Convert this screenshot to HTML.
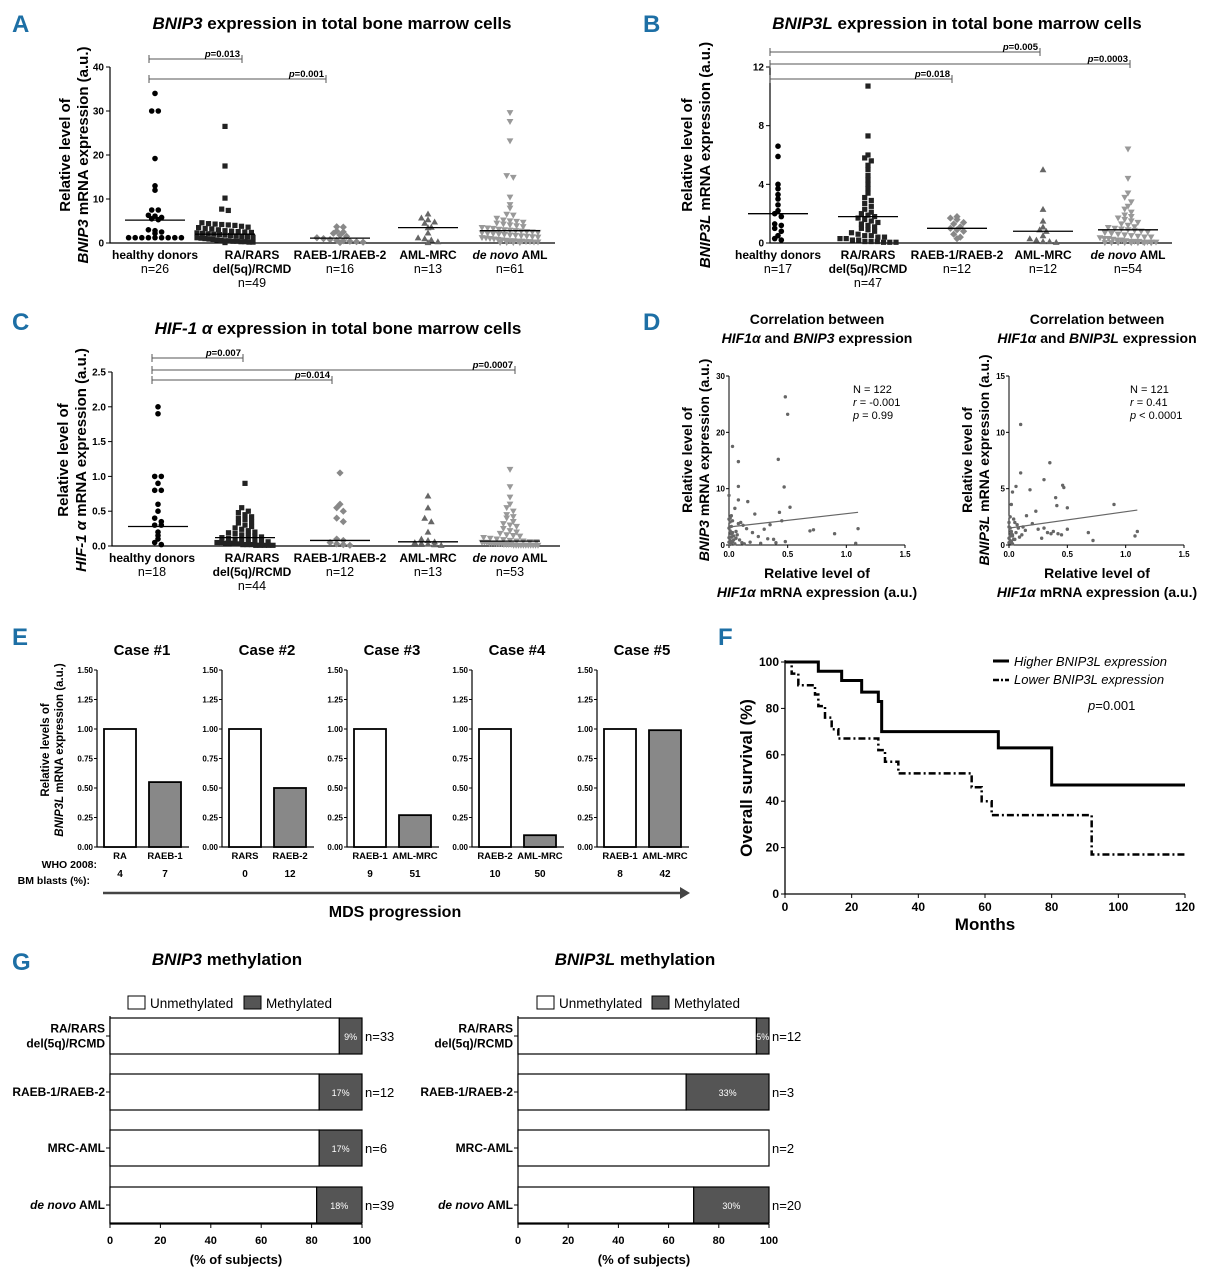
<!DOCTYPE html>
<html><head><meta charset="utf-8"><style>
html,body{margin:0;padding:0;background:#fff}
svg{display:block;font-family:"Liberation Sans",Arial,sans-serif}
.b{font-weight:bold}
.pl{font-family:"Liberation Sans",sans-serif;font-weight:bold;fill:#1d6fa5;font-size:24px}
</style></head><body>
<svg id="fig" width="1217" height="1280" viewBox="0 0 1217 1280" xmlns="http://www.w3.org/2000/svg">
<text class="pl" x="12" y="32">A</text>
<text class="pl" x="643" y="32">B</text>
<text class="pl" x="12" y="330">C</text>
<text class="pl" x="643" y="330">D</text>
<text class="pl" x="12" y="645">E</text>
<text class="pl" x="718" y="645">F</text>
<text class="pl" x="12" y="970">G</text>

<text x="332" y="29" text-anchor="middle" class="b" font-size="17"><tspan font-style="italic">BNIP3</tspan> expression in total bone marrow cells</text>
<g transform="translate(70,155) rotate(-90)"><text text-anchor="middle" class="b" font-size="15">Relative level of</text><text y="18" text-anchor="middle" class="b" font-size="15"><tspan font-style="italic">BNIP3</tspan> mRNA expression (a.u.)</text></g>
<text x="957" y="29" text-anchor="middle" class="b" font-size="17"><tspan font-style="italic">BNIP3L</tspan> expression in total bone marrow cells</text>
<g transform="translate(692,155) rotate(-90)"><text text-anchor="middle" class="b" font-size="15">Relative level of</text><text y="18" text-anchor="middle" class="b" font-size="15"><tspan font-style="italic">BNIP3L</tspan> mRNA expression (a.u.)</text></g>
<text x="338" y="334" text-anchor="middle" class="b" font-size="17"><tspan font-style="italic">HIF-1 α</tspan> expression in total bone marrow cells</text>
<g transform="translate(68,460) rotate(-90)"><text text-anchor="middle" class="b" font-size="15">Relative level of</text><text y="18" text-anchor="middle" class="b" font-size="15"><tspan font-style="italic">HIF-1 α</tspan> mRNA expression (a.u.)</text></g>
<g><text x="817" y="324" text-anchor="middle" class="b" font-size="14">Correlation between</text><text x="817" y="343" text-anchor="middle" class="b" font-size="14"><tspan font-style="italic">HIF1α</tspan> and <tspan font-style="italic">BNIP3</tspan> expression</text></g>
<g><text x="1097" y="324" text-anchor="middle" class="b" font-size="14">Correlation between</text><text x="1097" y="343" text-anchor="middle" class="b" font-size="14"><tspan font-style="italic">HIF1α</tspan> and <tspan font-style="italic">BNIP3L</tspan> expression</text></g>
<g transform="translate(692,460) rotate(-90)"><text text-anchor="middle" class="b" font-size="14">Relative level of</text><text y="17" text-anchor="middle" class="b" font-size="14"><tspan font-style="italic">BNIP3</tspan> mRNA expression (a.u.)</text></g>
<g transform="translate(972,460) rotate(-90)"><text text-anchor="middle" class="b" font-size="14">Relative level of</text><text y="17" text-anchor="middle" class="b" font-size="14"><tspan font-style="italic">BNIP3L</tspan> mRNA expression (a.u.)</text></g>
<g><text x="817" y="578" text-anchor="middle" class="b" font-size="14">Relative level of</text><text x="817" y="597" text-anchor="middle" class="b" font-size="14"><tspan font-style="italic">HIF1α</tspan> mRNA expression (a.u.)</text></g>
<g><text x="1097" y="578" text-anchor="middle" class="b" font-size="14">Relative level of</text><text x="1097" y="597" text-anchor="middle" class="b" font-size="14"><tspan font-style="italic">HIF1α</tspan> mRNA expression (a.u.)</text></g>
<g font-size="11"><text x="853" y="393">N = 122</text><text x="853" y="406"><tspan font-style="italic">r</tspan> = -0.001</text><text x="853" y="419"><tspan font-style="italic">p</tspan> = 0.99</text></g>
<g font-size="11"><text x="1130" y="393">N = 121</text><text x="1130" y="406"><tspan font-style="italic">r</tspan> = 0.41</text><text x="1130" y="419"><tspan font-style="italic">p</tspan> &lt; 0.0001</text></g>
<g transform="translate(49,750) rotate(-90)"><text text-anchor="middle" class="b" font-size="11.5">Relative levels of</text><text y="14" text-anchor="middle" class="b" font-size="11.5"><tspan font-style="italic">BNIP3L</tspan> mRNA expression (a.u.)</text></g>
<text x="97" y="868" text-anchor="end" class="b" font-size="10.5">WHO 2008:</text>
<text x="90" y="884" text-anchor="end" class="b" font-size="10.5">BM blasts (%):</text>
<line x1="103" y1="893" x2="680" y2="893" stroke="#444" stroke-width="2.5"/>
<polygon points="680,887 690,893 680,899" fill="#444"/>
<text x="395" y="917" text-anchor="middle" class="b" font-size="16">MDS progression</text>
<text transform="translate(752,778) rotate(-90)" text-anchor="middle" class="b" font-size="17">Overall survival (%)</text>
<text x="985" y="930" text-anchor="middle" class="b" font-size="17">Months</text>
<line x1="993" y1="661" x2="1009" y2="661" stroke="#000" stroke-width="3"/>
<text x="1014" y="666" font-size="13" font-style="italic">Higher BNIP3L expression</text>
<line x1="993" y1="680" x2="1009" y2="680" stroke="#000" stroke-width="2.5" stroke-dasharray="6,2,2,2"/>
<text x="1014" y="684" font-size="13" font-style="italic">Lower BNIP3L expression</text>
<text x="1088" y="710" font-size="13"><tspan font-style="italic">p</tspan>=0.001</text>
<text x="227" y="965" text-anchor="middle" class="b" font-size="17"><tspan font-style="italic">BNIP3</tspan> methylation</text>
<text x="635" y="965" text-anchor="middle" class="b" font-size="17"><tspan font-style="italic">BNIP3L</tspan> methylation</text>
<g font-size="13.5"><rect x="128" y="996" width="17" height="13" fill="#fff" stroke="#000"/><text x="150" y="1008">Unmethylated</text><rect x="244" y="996" width="17" height="13" fill="#555" stroke="#000"/><text x="266" y="1008">Methylated</text></g>
<g font-size="13.5"><rect x="537" y="996" width="17" height="13" fill="#fff" stroke="#000"/><text x="559" y="1008">Unmethylated</text><rect x="652" y="996" width="17" height="13" fill="#555" stroke="#000"/><text x="674" y="1008">Methylated</text></g>
<text x="236" y="1264" text-anchor="middle" class="b" font-size="13">(% of subjects)</text>
<text x="644" y="1264" text-anchor="middle" class="b" font-size="13">(% of subjects)</text>
<g id="dyn"></g>
</svg>
<script>
const aCats = ["healthy donors","RA/RARS|del(5q)/RCMD","RAEB-1/RAEB-2","AML-MRC","de novo AML"];
const aNs = ["n=26","n=49","n=16","n=13","n=61"];
const aHealthy = [34,30,30,19.2,13,12,7.5,7.5,6.3,6.1,5.8,5.5,5.3,3,2.8,2.5,2.2,1.2,1.2,1.2,1.2,1.2,1.2,1.2,1.2,1.2];
const aRA = [26.5,17.5,10.2,7.7,7.4,4.6,4.4,4.3,4.2,4.1,4,3.8,3.6,3.5,3.3,3.2,3,2.8,2.7,2.6,2.5,2.4,2.3,2.2,2.1,2,1.9,1.8,1.7,1.6,1.5,1.4,1.3,1.2,1.1,1,0.9,0.8,0.7,0.6,0.5,0.5,0.4,0.4,0.3,0.3,0.2,0.2,0.1];
const aRAEB = [3.7,3.6,2.7,2.5,2.2,1.8,1.5,1.2,1,0.8,0.6,0.5,0.4,0.3,0.2,0.1];
const aMRC = [6.6,5.7,5.3,4.8,4.5,3.6,3.5,2.3,1.2,1,0.7,0.3,0.1];
const aDeNovo = [29.6,27.6,23.2,15.3,14.9,10.4,8.7,7.9,6.5,6.3,5.6,5.2,5,4.9,4.7,4.5,4.3,4.1,3.9,3.7,3.5,3.4,3.3,3.1,3,2.9,2.8,2.7,2.6,2.5,2.4,2.3,2.2,2.1,2,1.9,1.8,1.7,1.6,1.5,1.4,1.3,1.2,1.1,1,0.9,0.8,0.7,0.6,0.5,0.5,0.4,0.4,0.3,0.3,0.2,0.2,0.1,0.1,0.05,0.05];
const aMedians = [5.2,2.0,1.1,3.5,2.8];
const aTicks = [0,10,20,30,40];
const bNs = ["n=17","n=47","n=12","n=12","n=54"];
const bHealthy = [6.6,5.9,4.0,3.7,3.3,3.0,2.6,2.2,2.0,1.8,1.3,1.2,1.0,0.8,0.5,0.3,0.2];
const bRA = [10.7,7.3,6.0,5.8,5.6,5.3,5.0,4.6,4.3,4.0,3.7,3.4,3.1,2.9,2.7,2.5,2.3,2.1,2.0,1.9,1.8,1.7,1.6,1.5,1.4,1.3,1.2,1.1,1.0,0.9,0.8,0.7,0.6,0.5,0.5,0.4,0.4,0.3,0.3,0.2,0.2,0.1,0.1,0.1,0.05,0.05,0.05];
const bRAEB = [1.8,1.7,1.6,1.4,1.3,1.1,1.0,0.9,0.8,0.6,0.4,0.3];
const bMRC = [5.0,2.3,1.5,1.1,0.9,0.8,0.5,0.3,0.2,0.1,0.1,0.05];
const bDeNovo = [6.4,4.4,3.4,3.1,2.8,2.5,2.3,2.1,1.9,1.8,1.7,1.6,1.5,1.4,1.3,1.2,1.1,1.05,1.0,0.95,0.9,0.85,0.8,0.75,0.7,0.65,0.6,0.55,0.5,0.45,0.4,0.4,0.35,0.3,0.3,0.25,0.2,0.2,0.15,0.1,0.1,0.1,0.05,0.05,0.05,0.05,0.02,0.02,0.02,0.02,0.01,0.01,0.01,0.01];
const bMedians = [2.0,1.8,1.0,0.8,0.9];
const bTicks = [0,4,8,12];
const cNs = ["n=18","n=44","n=12","n=13","n=53"];
const cHealthy = [2.0,1.9,1.0,1.0,0.9,0.8,0.8,0.6,0.5,0.4,0.35,0.3,0.3,0.2,0.15,0.1,0.05,0.02];
const cRA = [0.9,0.55,0.5,0.48,0.45,0.42,0.4,0.38,0.35,0.33,0.3,0.28,0.26,0.24,0.22,0.2,0.19,0.18,0.16,0.15,0.14,0.13,0.12,0.11,0.1,0.09,0.08,0.07,0.06,0.06,0.05,0.05,0.04,0.04,0.03,0.03,0.02,0.02,0.02,0.01,0.01,0.01,0.01,0.01];
const cRAEB = [1.05,0.6,0.55,0.5,0.4,0.35,0.1,0.08,0.05,0.03,0.02,0.01];
const cMRC = [0.72,0.55,0.4,0.35,0.2,0.1,0.08,0.06,0.05,0.04,0.03,0.02,0.01];
const cDeNovo = [1.1,0.85,0.7,0.6,0.55,0.5,0.45,0.42,0.4,0.35,0.32,0.3,0.28,0.25,0.22,0.2,0.18,0.16,0.15,0.14,0.12,0.11,0.1,0.09,0.08,0.07,0.07,0.06,0.06,0.05,0.05,0.05,0.04,0.04,0.04,0.03,0.03,0.03,0.02,0.02,0.02,0.02,0.01,0.01,0.01,0.01,0.01,0.01,0.01,0.01,0.01,0.01,0.01];
const cMedians = [0.28,0.12,0.08,0.06,0.07];
const cTicks = [0,0.5,1,1.5,2,2.5];
const dLeftX = [0.03,0.08,0.42,0.48,0.5,0.47,0.08,0.0,0.08,0.16,0.52,0.43,0.22,0.72,0.69,0.9,1.1,1.08,0.48,0.05,0.02,0.01,0.03,0.1,0.12,0.15,0.2,0.25,0.3,0.35,0.38,0.0,0.01,0.02,0.04,0.06,0.0,0.01,0.02,0.03,0.05,0.07,0.09,0.11,0.13,0.18,0.27,0.33,0.45,0.4,0.0,0.01,0.02,0.03,0.04,0.0,0.01,0.02,0.06,0.08];
const dLeftY = [17.5,14.8,15.2,26.3,23.2,10.3,10.4,8.8,8.0,7.7,6.7,5.8,5.5,2.7,2.5,2.0,2.9,0.3,0.6,6.5,5.2,4.8,4.3,4.0,3.5,2.9,2.2,1.5,2.8,3.6,1.0,3.0,2.5,2.0,1.6,1.2,0.5,0.8,0.3,0.6,0.2,1.8,0.9,0.4,0.2,0.5,0.3,1.1,4.3,0.4,1.3,4.1,3.3,2.2,0.9,4.6,0.1,1.4,2.4,3.8];
const dLeftFit = [3.2,5.8];
const dRightX = [0.1,0.35,0.1,0.3,0.46,0.47,0.4,0.41,0.5,0.9,0.06,0.03,0.18,0.23,0.68,0.72,1.08,1.1,0.02,0.01,0.04,0.05,0.07,0.08,0.12,0.15,0.2,0.25,0.3,0.33,0.38,0.45,0.5,0.0,0.01,0.02,0.03,0.0,0.01,0.02,0.03,0.05,0.06,0.09,0.11,0.14,0.28,0.36,0.42,0.0,0.01,0.02,0.04,0.0,0.01,0.03];
const dRightY = [10.7,7.3,6.4,5.8,5.3,5.1,4.2,3.5,3.3,3.6,5.2,4.7,4.9,3.0,1.1,0.4,0.8,1.2,3.6,2.5,2.3,2.0,1.8,1.5,1.6,2.6,1.9,1.4,1.5,1.1,1.2,0.9,1.4,2.0,1.5,1.2,0.9,0.6,0.4,0.3,0.8,0.5,1.1,0.7,0.9,1.3,0.6,1.0,1.0,1.6,0.2,1.0,0.5,0.2,0.8,0.1];
const dRightFit = [1.5,3.1];
const eCases = ["Case #1","Case #2","Case #3","Case #4","Case #5"];
const eCatsBefore = ["RA","RARS","RAEB-1","RAEB-2","RAEB-1"];
const eCatsAfter = ["RAEB-1","RAEB-2","AML-MRC","AML-MRC","AML-MRC"];
const eBlastsBefore = [4,0,9,10,8];
const eBlastsAfter = [7,12,51,50,42];
const eValBefore = [1,1,1,1,1];
const eValAfter = [0.55,0.5,0.27,0.1,0.99];
const eTicks = [0,0.25,0.5,0.75,1,1.25,1.5];
const fHighT = [0,10,17,23,28,29,64,80,120];
const fHighS = [100,96,92,87,83,70,63,47,47];
const fLowT = [0,2,4,9,10,12,14,16,28,30,34,56,59,62,92,120];
const fLowS = [100,95,90,86,81,76,71,67,62,57,52,46,40,34,17,17];
const fXTicks = [0,20,40,60,80,100,120];
const fYTicks = [0,20,40,60,80,100];
const gCats = ["RA/RARS|del(5q)/RCMD","RAEB-1/RAEB-2","MRC-AML","de novo AML"];
const gLeftMeth = [9,17,17,18];
const gLeftN = [33,12,6,39];
const gRightMeth = [5,33,0,30];
const gRightN = [12,3,2,20];
const gTicks = [0,20,40,60,80,100];

const NS="http://www.w3.org/2000/svg";
const root=document.getElementById('dyn');
function mk(tag,attrs,parent){const e=document.createElementNS(NS,tag);for(const k in attrs)e.setAttribute(k,attrs[k]);(parent||root).appendChild(e);return e;}
function txt(x,y,s,attrs,parent){const e=mk('text',Object.assign({x:x,y:y},attrs||{}),parent);e.textContent=s;return e;}

function marker(shape,cx,cy,col,g){
  let e;
  if(shape==='circle') e=mk('circle',{cx:cx,cy:cy,r:2.8,fill:col},g);
  else if(shape==='square') e=mk('rect',{x:cx-2.6,y:cy-2.6,width:5.2,height:5.2,fill:col},g);
  else if(shape==='diamond') e=mk('polygon',{points:`${cx},${cy-3.6} ${cx+3.6},${cy} ${cx},${cy+3.6} ${cx-3.6},${cy}`,fill:col},g);
  else if(shape==='up') e=mk('polygon',{points:`${cx},${cy-3.4} ${cx+3.4},${cy+2.6} ${cx-3.4},${cy+2.6}`,fill:col},g);
  else e=mk('polygon',{points:`${cx},${cy+3.4} ${cx+3.4},${cy-2.6} ${cx-3.4},${cy-2.6}`,fill:col},g);
  return e;
}

function dotPlot(p){
  const g=mk('g',{});
  
  
  const y=v=>p.y0-(v/p.max)*(p.y0-p.yT);
  const ax=mk('path',{d:`M${p.ax},${p.yT} V${p.y0} H${p.axEnd}`,stroke:'#000','stroke-width':1.2,fill:'none'},g);
  
  
  p.ticks.forEach(t=>{
    const l=mk('line',{x1:p.ax-4,x2:p.ax,y1:y(t),y2:y(t),stroke:'#000'},g);
    
    
    const tl=txt(p.ax-6,y(t)+3.5,p.fmt(t),{'text-anchor':'end','font-size':10,'font-weight':'bold'},g);
    
    
  });
  const shapes=['circle','square','diamond','up','down'];
  const cols=['#000','#222','#888','#666','#999'];
  const halfW=28;
  p.groups.forEach((arr,gi)=>{
    const cx=p.centers[gi];
    const bins={};
    arr.forEach(v=>{const py=y(v);const b=Math.round(py/5);(bins[b]=bins[b]||[]).push(py);});
    Object.keys(bins).forEach(b=>{
      const list=bins[b];const n=list.length;
      const sp=n>1?Math.min(6.6,2*halfW/(n-1)):0;
      list.forEach((py,i)=>{
        const off=(i-(n-1)/2)*sp;
        const m=marker(shapes[gi],cx+off,py,cols[gi],g);
        
        
      });
    });
    const md=mk('line',{x1:cx-30,x2:cx+30,y1:y(p.medians[gi]),y2:y(p.medians[gi]),stroke:'#000','stroke-width':1.3},g);
    
    
    const parts=aCats[gi].split('|');
    let ly=p.y0+16;
    parts.forEach((s,k)=>{
      const t=txt(p.labelX[gi],ly,s,{'text-anchor':'middle','font-size':12,'font-weight':'bold'},g);
      if(gi===4){t.textContent='';const a=mk('tspan',{'font-style':'italic'},t);a.textContent='de novo';const b2=mk('tspan',{},t);b2.textContent=' AML';}
      
      
      ly+=14;
    });
    const nt=txt(p.labelX[gi],ly,p.ns[gi],{'text-anchor':'middle','font-size':12.5},g);
    
    
  });
  p.brackets.forEach(br=>{
    const bl=mk('path',{d:`M${br[0]},${br[2]-4} v8 M${br[0]},${br[2]} H${br[1]} M${br[1]},${br[2]-4} v8`,stroke:'#555','stroke-width':1,fill:'none'},g);
    
    
    const t=txt(br[1]-2,br[2]-2,'',{'text-anchor':'end','font-size':9.5,'font-weight':'bold'},g);
    const a=mk('tspan',{'font-style':'italic'},t);a.textContent='p';const b2=mk('tspan',{},t);b2.textContent='='+br[3];
    
    
  });
}

dotPlot({name:'panel-a-dotplot',ax:110,axEnd:555,y0:243,yT:67,max:40,ticks:aTicks,fmt:t=>t,groups:[aHealthy,aRA,aRAEB,aMRC,aDeNovo],medians:aMedians,centers:[155,225,340,428,510],labelX:[155,252,340,428,510],ns:aNs,brackets:[[149,242,59,'0.013'],[149,326,79,'0.001']]});
dotPlot({name:'panel-b-dotplot',ax:770,axEnd:1172,y0:243,yT:67,max:12,ticks:bTicks,fmt:t=>t,groups:[bHealthy,bRA,bRAEB,bMRC,bDeNovo],medians:bMedians,centers:[778,868,957,1043,1128],labelX:[778,868,957,1043,1128],ns:bNs,brackets:[[770,1040,52,'0.005'],[770,1130,64,'0.0003'],[770,952,79,'0.018']]});
dotPlot({name:'panel-c-dotplot',ax:112,axEnd:560,y0:546,yT:372,max:2.5,ticks:cTicks,fmt:t=>t.toFixed(1),groups:[cHealthy,cRA,cRAEB,cMRC,cDeNovo],medians:cMedians,centers:[158,245,340,428,510],labelX:[152,252,340,428,510],ns:cNs,brackets:[[152,243,358,'0.007'],[152,515,370,'0.0007'],[152,332,380,'0.014']]});

function scatter(name,x0,x1,y0,yT,ymax,yt,xs,ys,fit){
  const g=mk('g',{});
  
  
  const X=v=>x0+v/1.5*(x1-x0), Y=v=>y0-v/ymax*(y0-yT);
  const ax=mk('path',{d:`M${x0},${yT} V${y0} H${x1}`,stroke:'#000','stroke-width':1,fill:'none'},g);
  
  
  yt.forEach(t=>{mk('line',{x1:x0-3,x2:x0,y1:Y(t),y2:Y(t),stroke:'#000'},g);
    const l=txt(x0-4,Y(t)+3,t,{'text-anchor':'end','font-size':8,'font-weight':'bold'},g);
    
    });
  [0,0.5,1,1.5].forEach(t=>{mk('line',{x1:X(t),x2:X(t),y1:y0,y2:y0+3,stroke:'#000'},g);
    const l=txt(X(t),y0+12,t.toFixed(1),{'text-anchor':'middle','font-size':8,'font-weight':'bold'},g);
    
    });
  xs.forEach((v,i)=>{const c=mk('circle',{cx:X(v),cy:Y(ys[i]),r:1.7,fill:'#666'},g);
    
    });
  const f=mk('line',{x1:X(0),y1:Y(fit[0]),x2:X(1.1),y2:Y(fit[1]),stroke:'#666','stroke-width':1.2},g);
  
  
}
scatter('panel-d-left-scatter',729,905,545,376,30,[0,10,20,30],dLeftX,dLeftY,dLeftFit);
scatter('panel-d-right-scatter',1009,1184,545,376,15,[0,5,10,15],dRightX,dRightY,dRightFit);

eCases.forEach((c,i)=>{
  const g=mk('g',{});
  
  
  const ax=97+125*i, y0=847, yT=670;
  const Y=v=>y0-v/1.5*(y0-yT);
  const t=txt(ax+45,655,c,{'text-anchor':'middle','font-size':15,'font-weight':'bold'},g);
  
  
  mk('path',{d:`M${ax},${yT} V${y0} H${ax+92}`,stroke:'#000','stroke-width':1.2,fill:'none'},g);
  eTicks.forEach(tk=>{mk('line',{x1:ax-3,x2:ax,y1:Y(tk),y2:Y(tk),stroke:'#000'},g);
    const l=txt(ax-4,Y(tk)+3,tk.toFixed(2),{'text-anchor':'end','font-size':8,'font-weight':'bold'},g);
    
    });
  const b1=mk('rect',{x:ax+7,y:Y(eValBefore[i]),width:32,height:y0-Y(eValBefore[i]),fill:'#fff',stroke:'#000','stroke-width':1.8},g);
  
  
  const b2=mk('rect',{x:ax+52,y:Y(eValAfter[i]),width:32,height:y0-Y(eValAfter[i]),fill:'#888',stroke:'#000','stroke-width':1.8},g);
  
  
  const l1=txt(ax+23,859,eCatsBefore[i],{'text-anchor':'middle','font-size':9.5,'font-weight':'bold'},g);
  
  
  const l2=txt(ax+68,859,eCatsAfter[i],{'text-anchor':'middle','font-size':9.5,'font-weight':'bold'},g);
  
  
  const n1=txt(ax+23,877,eBlastsBefore[i],{'text-anchor':'middle','font-size':10,'font-weight':'bold'},g);
  
  
  const n2=txt(ax+68,877,eBlastsAfter[i],{'text-anchor':'middle','font-size':10,'font-weight':'bold'},g);
  
  
});

(function(){
  const g=mk('g',{});
  
  
  const x0=785,x1=1185,y0=894,yT=662;
  const X=v=>x0+v/120*(x1-x0), Y=v=>y0-v/100*(y0-yT);
  mk('path',{d:`M${x0},${yT-2} V${y0} H${x1}`,stroke:'#000','stroke-width':1.3,fill:'none'},g);
  fYTicks.forEach(t=>{mk('line',{x1:x0-4,x2:x0,y1:Y(t),y2:Y(t),stroke:'#000'},g);
    const l=txt(x0-6,Y(t)+4,t,{'text-anchor':'end','font-size':12,'font-weight':'bold'},g);
    
    });
  fXTicks.forEach(t=>{mk('line',{x1:X(t),x2:X(t),y1:y0,y2:y0+4,stroke:'#000'},g);
    const l=txt(X(t),y0+17,t,{'text-anchor':'middle','font-size':12,'font-weight':'bold'},g);
    
    });
  function step(T,S){let d=`M${X(T[0])},${Y(S[0])}`;for(let i=1;i<T.length;i++){d+=` H${X(T[i])} V${Y(S[i])}`;}return d;}
  const h=mk('path',{d:step(fHighT,fHighS),stroke:'#000','stroke-width':3,fill:'none'},g);
  
  
  const lo=mk('path',{d:step(fLowT,fLowS),stroke:'#000','stroke-width':2.5,fill:'none','stroke-dasharray':'7,3,2,3'},g);
  
  
})();

function hbars(name,x0,x1,meth,ns){
  const g=mk('g',{});
  
  
  const X=v=>x0+v/100*(x1-x0);
  const rows=[1036,1092,1148,1205];
  mk('path',{d:`M${x0},1016 V1224 H${x1}`,stroke:'#000','stroke-width':1.2,fill:'none'},g);
  gTicks.forEach(t=>{mk('line',{x1:X(t),x2:X(t),y1:1224,y2:1228,stroke:'#000'},g);
    const l=txt(X(t),1244,t,{'text-anchor':'middle','font-size':11,'font-weight':'bold'},g);
    
    });
  gCats.forEach((c,i)=>{
    const cy=rows[i];
    mk('line',{x1:x0-4,x2:x0,y1:cy,y2:cy,stroke:'#000'},g);
    const parts=c.split('|');
    parts.forEach((s,k)=>{
      const ty=cy+4+(k-(parts.length-1)/2)*15;
      const t=txt(x0-5,ty,'',{'text-anchor':'end','font-size':12,'font-weight':'bold'},g);
      if(s==='de novo AML'){const a=mk('tspan',{'font-style':'italic'},t);a.textContent='de novo';const b=mk('tspan',{},t);b.textContent=' AML';}
      else t.textContent=s;
      
      
    });
    const u=mk('rect',{x:x0,y:cy-18,width:X(100-meth[i])-x0,height:36,fill:'#fff',stroke:'#000','stroke-width':1.2},g);
    
    
    if(meth[i]>0){
      const m=mk('rect',{x:X(100-meth[i]),y:cy-18,width:X(100)-X(100-meth[i]),height:36,fill:'#555',stroke:'#000','stroke-width':1.2},g);
      
      
      const p=txt((X(100-meth[i])+X(100))/2,cy+4,meth[i]+'%',{'text-anchor':'middle','font-size':9,fill:'#fff'},g);
      
      
    }
    const n=txt(X(100)+3,cy+5,'n='+ns[i],{'font-size':13},g);
    
    
  });
}
hbars('panel-g-left-bars',110,362,gLeftMeth,gLeftN);
hbars('panel-g-right-bars',518,769,gRightMeth,gRightN);
</script>
</body></html>
